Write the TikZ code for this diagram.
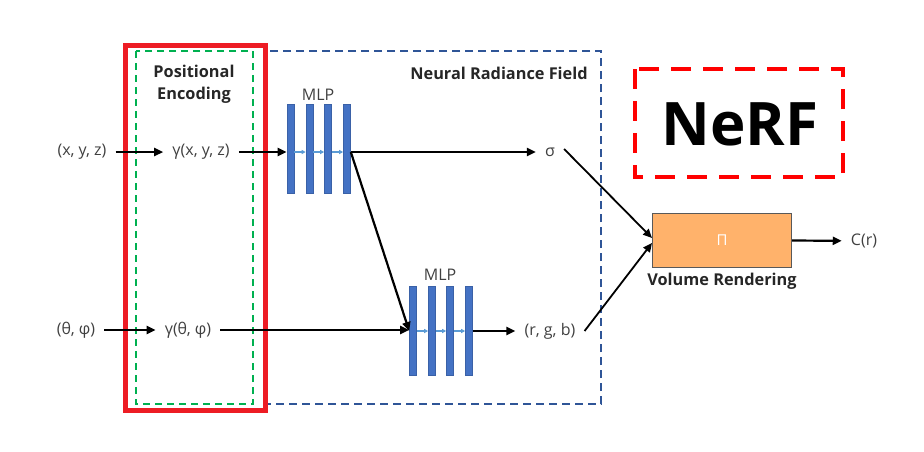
\documentclass[tikz,border=0pt]{standalone}
\usepackage{fontspec}
\setmainfont{Open Sans}
\usetikzlibrary{arrows.meta}
\definecolor{textgray}{RGB}{64,64,64}
\definecolor{nrfblue}{RGB}{47,85,151}
\definecolor{pegreen}{RGB}{0,176,80}
\definecolor{boxred}{RGB}{237,28,36}
\definecolor{nerfred}{RGB}{255,0,0}
\definecolor{vrorange}{RGB}{255,178,107}
\definecolor{barblue}{RGB}{68,114,196}
\definecolor{lightblue}{RGB}{91,155,213}
\tikzset{
  lbl/.style={text=textgray,font=\fontsize{16}{18}\selectfont,inner xsep=9pt,inner ysep=1pt},
  hdr/.style={text=black!85,font=\bfseries\fontsize{16.3}{22}\selectfont,align=center,inner sep=0pt},
  bar/.style={fill=barblue,draw=barblue!85!black,line width=0.6pt,minimum width=7pt,minimum height=89pt,inner sep=0pt},
  flow/.style={line width=2.2pt,-{Triangle[length=9pt,width=8pt]}},
  tiny/.style={draw=lightblue,line width=1.1pt,-{Triangle[length=4pt,width=4pt]}},
}
\begin{document}
\begin{tikzpicture}[x=1pt,y=-1pt]
\useasboundingbox (0,0) rectangle (924,451);
% frames:
\draw[nrfblue,line width=1.4pt,dash pattern=on 8pt off 5pt] (265,51) rectangle (601,404);
\draw[pegreen,line width=1.8pt,dash pattern=on 7pt off 5pt] (136,51) rectangle (253,404);
\draw[boxred,line width=5pt] (125.5,45) rectangle (265.5,410.5);
\draw[nerfred,line width=4.5pt,dash pattern=on 20pt off 12pt] (635,69) rectangle (843,177);
% headings:
\node[hdr] (pe) at (194,84) {Positional\\Encoding};
\node[hdr] (nrf) at (499,73) {Neural Radiance Field};
\node[hdr] (vrl) at (722,281) {Volume Rendering};
\node[text=black,font=\bfseries\fontsize{60}{66}\selectfont,inner sep=0pt] (nerf) at (740,124) {NeRF};
% inputs and outputs:
\node[lbl] (xyz) at (82,152) {(x, y, z)};
\node[lbl] (gxyz) at (201,152) {γ(x, y, z)};
\node[lbl] (sig) at (550,152) {σ};
\node[lbl] (tp) at (76,330) {(θ, φ)};
\node[lbl] (gtp) at (188,330) {γ(θ, φ)};
\node[lbl] (rgb) at (550,331) {(r, g, b)};
\node[lbl] (cr) at (864,241) {C(r)};
% layers:
\node[lbl] (mlpA) at (318,95) {MLP};
\node[lbl] (mlpB) at (440,275) {MLP};
\foreach \i/\x in {1/290.5,2/309.5,3/328,4/347}
  \node[bar] (mA\i) at (\x,148.5) {};
\foreach \i/\x in {1/413,2/432,3/450,4/469}
  \node[bar] (mB\i) at (\x,331) {};
\foreach \i/\j in {1/2,2/3,3/4} {
  \draw[tiny] (mA\i.east |- sig) -- (mA\j.west |- sig);
  \draw[tiny] (mB\i.east |- rgb) -- (mB\j.west |- rgb);
}
\node[draw=black!65,line width=1pt,fill=vrorange,text=white,minimum width=139pt,minimum height=54pt,font=\fontsize{15}{17}\selectfont] (vr) at (722,240) {Π};
% arrows:
\draw[flow] (xyz) -- (gxyz);
\draw[flow] (gxyz) -- (mA1.west |- gxyz);
\draw[flow] (mA4.east |- sig) -- (sig);
\draw[flow] (mA4.east |- sig) -- (mB1.west |- rgb);
\draw[flow] (tp) -- (gtp);
\draw[flow] (gtp) -- (mB1.west |- gtp);
\draw[flow] (mB4.east |- rgb) -- (rgb);
\draw[flow,line width=1.8pt] ([yshift=3pt]sig.east) -- ([yshift=2pt]vr.west);
\draw[flow,line width=1.8pt] (rgb.east) -- ([yshift=-3pt]vr.west);
\draw[flow] (vr) -- (cr);
\end{tikzpicture}
\end{document}
